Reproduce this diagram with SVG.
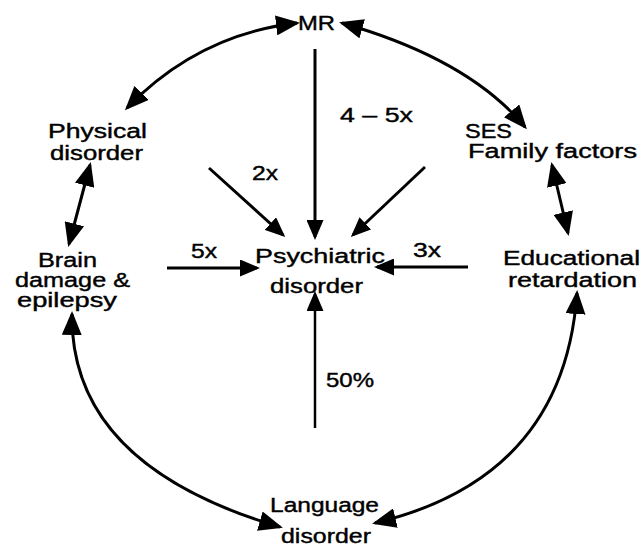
<svg xmlns="http://www.w3.org/2000/svg" width="643" height="546" viewBox="0 0 643 546">
<defs>
<marker id="ah" markerUnits="userSpaceOnUse" markerWidth="20" markerHeight="17" viewBox="0 0 20 17" refX="17" refY="8.5" orient="auto-start-reverse">
<path d="M0,0 L20,8.5 L0,17 Z" fill="#000"/>
</marker>
<marker id="ahb" markerUnits="userSpaceOnUse" markerWidth="24" markerHeight="20" viewBox="0 0 24 20" refX="21" refY="10" orient="auto-start-reverse">
<path d="M0,0 L24,10 L0,20 Z" fill="#000"/>
</marker>
</defs>
<style>
text{font-family:"Liberation Sans",Arial,sans-serif;font-size:20px;fill:#000;stroke:#000;stroke-width:0.4}
.c{stroke:#000;stroke-width:3;fill:none}
.t{stroke-width:2.5}
</style>
<rect width="643" height="546" fill="#fff"/>
<g id="connectors">
<path class="c" d="M297,23 Q198,34.5 127,108" marker-start="url(#ahb)" marker-end="url(#ahb)"/>
<path class="c" d="M342,23 Q468.5,59 525,127" marker-start="url(#ahb)" marker-end="url(#ahb)"/>
<path class="c" d="M90,165 L69,244" marker-start="url(#ahb)" marker-end="url(#ahb)"/>
<path class="c" d="M552,165 L568,233" marker-start="url(#ahb)" marker-end="url(#ahb)"/>
<path class="c" d="M72,314 Q70,465.5 280,527" marker-start="url(#ahb)" marker-end="url(#ahb)"/>
<path class="c" d="M577,293 Q564,478 375,523" marker-start="url(#ahb)" marker-end="url(#ahb)"/>
<path class="c" d="M315,49 L315,237" marker-end="url(#ah)"/>
<path class="c" d="M209,168 L283,235" marker-end="url(#ah)"/>
<path class="c" d="M425,167 L353,235" marker-end="url(#ah)"/>
<path class="c" d="M167,268 L257,268" marker-end="url(#ah)"/>
<path class="c" d="M468,267 L377,267" marker-end="url(#ah)"/>
<path class="c t" d="M315,428 L315,294" marker-end="url(#ah)"/>
<text x="340" y="122" textLength="73" lengthAdjust="spacingAndGlyphs">4 – 5x</text>
<text x="252" y="180" textLength="26" lengthAdjust="spacingAndGlyphs">2x</text>
<text x="191" y="258" textLength="26" lengthAdjust="spacingAndGlyphs">5x</text>
<text x="413" y="257" textLength="28" lengthAdjust="spacingAndGlyphs">3x</text>
<text x="326" y="387" textLength="48" lengthAdjust="spacingAndGlyphs">50%</text>
</g>
<g id="mr"><text x="298" y="30" textLength="37" lengthAdjust="spacingAndGlyphs">MR</text></g>
<g id="physical"><text x="48" y="138" textLength="99" lengthAdjust="spacingAndGlyphs">Physical</text><text x="50" y="160" textLength="93" lengthAdjust="spacingAndGlyphs">disorder</text></g>
<g id="ses"><text x="465" y="138" textLength="47" lengthAdjust="spacingAndGlyphs">SES</text><text x="468" y="158" textLength="169" lengthAdjust="spacingAndGlyphs">Family factors</text></g>
<g id="brain"><text x="38" y="267" textLength="59" lengthAdjust="spacingAndGlyphs">Brain</text><text x="15" y="287" textLength="115" lengthAdjust="spacingAndGlyphs">damage &amp;</text><text x="17" y="307" textLength="100" lengthAdjust="spacingAndGlyphs">epilepsy</text></g>
<g id="psychiatric"><text x="255" y="263" textLength="130" lengthAdjust="spacingAndGlyphs">Psychiatric</text><text x="270" y="293" textLength="93" lengthAdjust="spacingAndGlyphs">disorder</text></g>
<g id="educational"><text x="503" y="265" textLength="137" lengthAdjust="spacingAndGlyphs">Educational</text><text x="508" y="287" textLength="129" lengthAdjust="spacingAndGlyphs">retardation</text></g>
<g id="language"><text x="270" y="512" textLength="109" lengthAdjust="spacingAndGlyphs">Language</text><text x="281" y="543" textLength="90" lengthAdjust="spacingAndGlyphs">disorder</text></g>
</svg>
